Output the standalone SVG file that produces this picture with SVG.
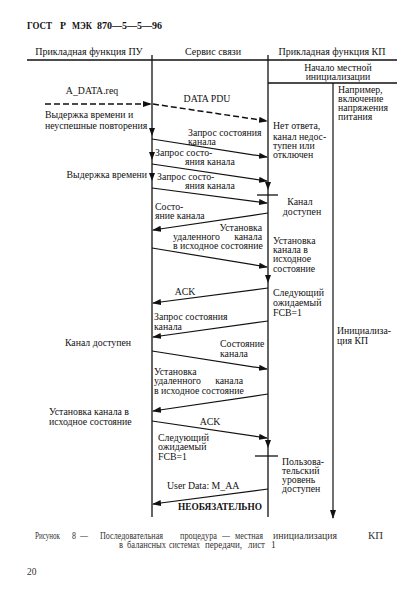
<svg xmlns="http://www.w3.org/2000/svg" width="419" height="610" viewBox="0 0 419 610">
<style>
text{font-family:"Liberation Serif","Times New Roman",serif;font-size:9.8px;fill:#111}
.h{font-size:10px}
.g{font-size:10.5px;font-weight:bold}
.b{font-weight:bold}
.m{text-anchor:middle}
.e{text-anchor:end}
.c{font-size:9.5px;fill:#333}
.ln{stroke:#111;stroke-width:1.3;fill:none}
.ar{stroke:#111;stroke-width:1.2;fill:none;marker-end:url(#ah)}
.da{stroke:#111;stroke-width:1.5;fill:none;stroke-dasharray:6 3;marker-end:url(#ah)}
.hd{fill:#111}
</style>
<defs>
<marker id="ah" markerUnits="userSpaceOnUse" markerWidth="9" markerHeight="7" refX="8" refY="3" orient="auto">
<path d="M0,0 L9,3 L0,6 z" fill="#111"/>
</marker>
</defs>
<rect width="419" height="610" fill="#fff"/>
<g id="header">
<text x="27" y="29" class="g" textLength="25" lengthAdjust="spacingAndGlyphs">ГОСТ</text>
<text x="60" y="29" class="g" textLength="6" lengthAdjust="spacingAndGlyphs">Р</text>
<text x="72" y="29" class="g" textLength="20" lengthAdjust="spacingAndGlyphs">МЭК</text>
<text x="97" y="29" class="g" textLength="65" lengthAdjust="spacingAndGlyphs">870—5—5—96</text>
<text x="89" y="55" class="h m">Прикладная функция ПУ</text>
<text x="213" y="55" class="h m">Сервис связи</text>
<text x="332" y="55" class="h m">Прикладная функция КП</text>
</g>
<g id="connectors">
<line class="ln" x1="27" y1="60" x2="397" y2="60" style="stroke-width:1.5"/>
<line class="ln" x1="152" y1="55" x2="152" y2="517"/>
<line class="ln" x1="268" y1="55" x2="268" y2="517"/>
<line class="ln" x1="268" y1="83" x2="397" y2="83"/>
<line class="ar" x1="333" y1="83" x2="333" y2="518"/>
<line class="da" x1="45" y1="104" x2="151" y2="104"/>
<line class="da" x1="153" y1="104" x2="267" y2="121"/>
<line class="ar" x1="152" y1="139" x2="267" y2="157"/>
<line class="ar" x1="152" y1="164" x2="267" y2="181"/>
<line class="ar" x1="152" y1="188" x2="267" y2="203"/>
<line class="ar" x1="268" y1="213" x2="153" y2="230"/>
<line class="ar" x1="152" y1="248" x2="267" y2="267"/>
<line class="ar" x1="268" y1="288" x2="153" y2="303"/>
<line class="ar" x1="268" y1="321" x2="153" y2="337"/>
<line class="ar" x1="152" y1="351" x2="267" y2="369"/>
<line class="ar" x1="268" y1="394" x2="153" y2="411"/>
<line class="ar" x1="152" y1="421" x2="267" y2="438"/>
<line class="ar" x1="268" y1="489" x2="153" y2="504"/>
<line class="ln" x1="257" y1="195" x2="278" y2="195"/>
<line class="ln" x1="255" y1="456" x2="278" y2="456"/>
<polygon class="hd" points="149,128 155,128 152,136"/>
<polygon class="hd" points="149,152 155,152 152,160"/>
<polygon class="hd" points="149,173 155,173 152,181"/>
<polygon class="hd" points="265,182 271,182 268,190"/>
<polygon class="hd" points="265,275 271,275 268,283"/>
<polygon class="hd" points="265,440 271,440 268,448"/>
</g>
<g id="kp-init">
<text x="338" y="71" class="m">Начало местной</text>
<text x="338" y="80" class="m">инициализации</text>
<text x="338" y="93">Например,</text>
<text x="338" y="102">включение</text>
<text x="338" y="111">напряжения</text>
<text x="338" y="120">питания</text>
<text x="337" y="334">Инициализа-</text>
<text x="337" y="344">ция КП</text>
</g>
<g id="pu-labels">
<text x="92" y="94" class="m">A_DATA.req</text>
<text x="45" y="118">Выдержка времени и</text>
<text x="45" y="129">неуспешные повторения</text>
<text x="147" y="178" class="e">Выдержка времени</text>
<text x="98" y="346" class="m">Канал доступен</text>
<text x="49" y="415">Установка канала в</text>
<text x="49" y="425">исходное состояние</text>
</g>
<g id="msg-labels">
<text x="207" y="102" class="m">DATA PDU</text>
<text x="188" y="136">Запрос состояния</text>
<text x="188" y="145">канала</text>
<text x="155" y="156">Запрос состо-</text>
<text x="185" y="165">яния канала</text>
<text x="157" y="180">Запрос состо-</text>
<text x="185" y="189">яния канала</text>
<text x="155" y="210">Состо-</text>
<text x="155" y="219">яние канала</text>
<text x="262" y="231" class="e">Установка</text>
<text x="173" y="240">удаленного</text>
<text x="262" y="240" class="e">канала</text>
<text x="173" y="249">в исходное состояние</text>
<text x="185" y="295" class="m">ACK</text>
<text x="154" y="320">Запрос состояния</text>
<text x="154" y="330">канала</text>
<text x="220" y="347">Состояние</text>
<text x="220" y="357">канала</text>
<text x="154" y="375">Установка</text>
<text x="154" y="384">удаленного</text>
<text x="243" y="384" class="e">канала</text>
<text x="154" y="394">в исходное состояние</text>
<text x="210" y="425" class="m">ACK</text>
<text x="158" y="441">Следующий</text>
<text x="158" y="450">ожидаемый</text>
<text x="158" y="460">FCB=1</text>
<text x="167" y="489">User Data: M_AA</text>
<text x="178" y="510" class="b" textLength="84" lengthAdjust="spacingAndGlyphs">НЕОБЯЗАТЕЛЬНО</text>
</g>
<g id="kp-labels">
<text x="273" y="129">Нет ответа,</text>
<text x="273" y="140">канал недос-</text>
<text x="273" y="149">тупен или</text>
<text x="273" y="158">отключен</text>
<text x="300" y="205" class="m">Канал</text>
<text x="302" y="215" class="m">доступен</text>
<text x="273" y="244">Установка</text>
<text x="273" y="253">канала в</text>
<text x="273" y="262">исходное</text>
<text x="273" y="272">состояние</text>
<text x="273" y="296">Следующий</text>
<text x="273" y="306">ожидаемый</text>
<text x="273" y="316">FCB=1</text>
<text x="282" y="465">Пользова-</text>
<text x="282" y="474">тельский</text>
<text x="282" y="483">уровень</text>
<text x="282" y="492">доступен</text>
</g>
<g id="caption">
<text x="35" y="539" class="c" textLength="25" lengthAdjust="spacingAndGlyphs">Рисунок</text>
<text x="72" y="539" class="c" textLength="4" lengthAdjust="spacingAndGlyphs">8</text>
<text x="80" y="539" class="c" textLength="8" lengthAdjust="spacingAndGlyphs">—</text>
<text x="100" y="539" class="c" textLength="63" lengthAdjust="spacingAndGlyphs">Последовательная</text>
<text x="180" y="539" class="c" textLength="37" lengthAdjust="spacingAndGlyphs">процедура</text>
<text x="222" y="539" class="c" textLength="8" lengthAdjust="spacingAndGlyphs">—</text>
<text x="235" y="539" class="c" textLength="28" lengthAdjust="spacingAndGlyphs">местная</text>
<text x="273" y="539" class="c" textLength="64" lengthAdjust="spacingAndGlyphs">инициализация</text>
<text x="368" y="539" class="c" textLength="15" lengthAdjust="spacingAndGlyphs">КП</text>
<text x="119" y="548" class="c" textLength="4" lengthAdjust="spacingAndGlyphs">в</text>
<text x="127" y="548" class="c" textLength="39" lengthAdjust="spacingAndGlyphs">балансных</text>
<text x="169" y="548" class="c" textLength="31" lengthAdjust="spacingAndGlyphs">системах</text>
<text x="205" y="548" class="c" textLength="37" lengthAdjust="spacingAndGlyphs">передачи,</text>
<text x="248" y="548" class="c" textLength="17" lengthAdjust="spacingAndGlyphs">лист</text>
<text x="271" y="548" class="c">1</text>
<text x="27" y="575" class="c">20</text>
</g>
</svg>
